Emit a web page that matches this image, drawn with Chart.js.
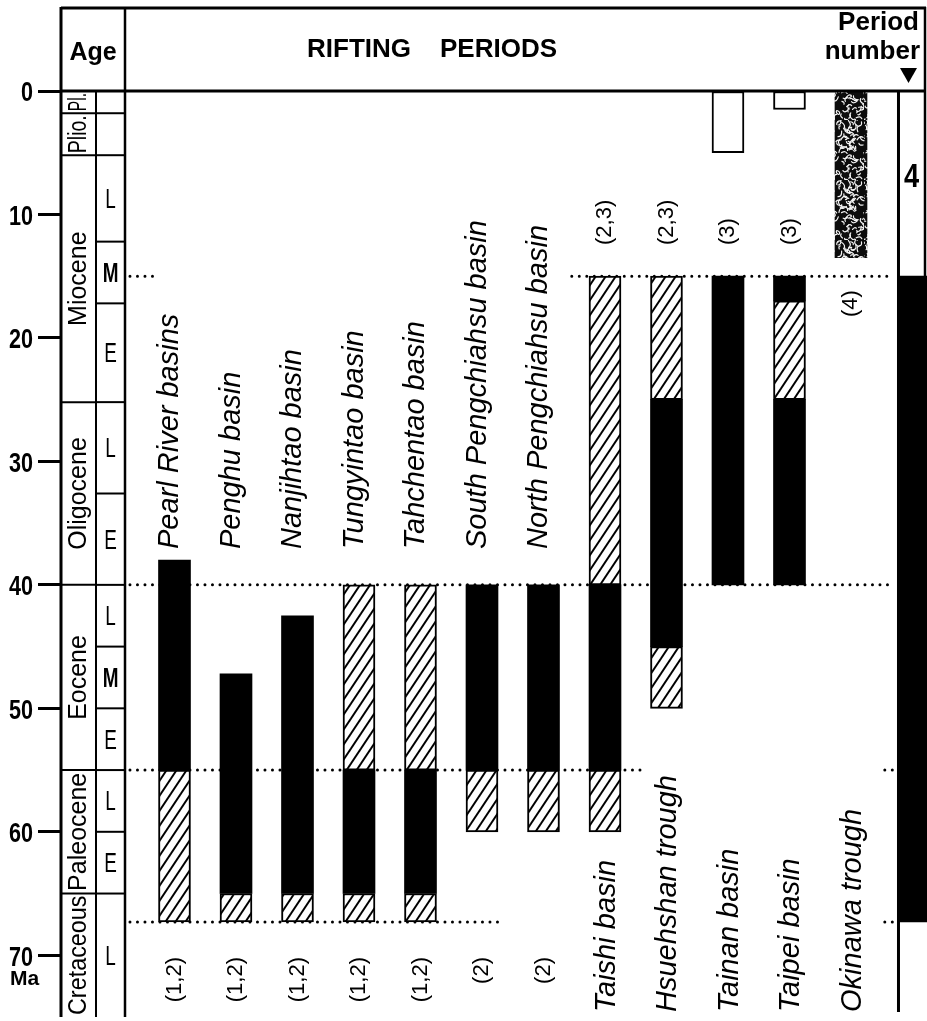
<!DOCTYPE html>
<html><head><meta charset="utf-8">
<script src="https://cdn.jsdelivr.net/npm/chart.js@4.4.1/dist/chart.umd.min.js"></script>
<style>html,body{margin:0;padding:0;background:#fff}canvas{display:block}</style>
</head><body>
<canvas id="c" width="927" height="1021"></canvas>
<script>
// ---------------- DATA ----------------
const basins = ['Pearl River basins','Penghu basin','Nanjihtao basin','Tungyintao basin','Tahchentao basin',
  'South Pengchiahsu basin','North Pengchiahsu basin','Taishi basin','Hsuehshan trough','Tainan basin',
  'Taipei basin','Okinawa trough'];
const periodNumbers = ['(1,2)','(1,2)','(1,2)','(1,2)','(1,2)','(2)','(2)','(2,3)','(2,3)','(3)','(3)','(4)'];
// [basin index, from Ma, to Ma]
const solidRifting = [[0,38,55],[1,47.2,65],[2,42.5,65],[3,55,65],[4,55,65],[5,40,55],[6,40,55],
  [7,40,55],[8,25,45],[9,15,40],[10,15,17],[10,25,40]];
const hatchedRifting = [[0,55,67.3],[1,65,67.3],[2,65,67.3],[3,40,55],[3,65,67.3],[4,40,55],[4,65,67.3],
  [5,55,60],[6,55,60],[7,15,40],[7,55,60],[8,15,25],[8,45,50],[10,17,25]];
const openRifting = [[9,0,5],[10,0,1.5]];
const stippledRifting = [[11,0,13.5]];
const periodColumn = [[12,15,67.3]];
const periodColumnLabel = '4';
const guideAges = [15,40,55,67.3];
const ageTicks = [0,10,20,30,40,50,60,70];
const epochNames = ['Pl.','Plio.','Miocene','Oligocene','Eocene','Paleocene','Cretaceous'];
const epochBounds = [0,1.8,5.2,25.2,40,55,65,75];
const subEpochNames = ['','','L','M','E','L','E','L','M','E','L','E','L'];
const subEpochBounds = [0,1.8,5.2,12.2,17.2,25.2,32.6,40,45,50,55,60,65,75];

// ---------------- LAYOUT (not data) ----------------
const guideSpans = {
  15: [[-0.724,-0.35],[6.46,11.7]],
  40: [[-0.724,11.7]],
  55: [[-0.724,7.65],[11.55,11.7]],
  67.3: [[-0.724,5.29],[11.55,11.7]]
};
const FONT = '"Liberation Sans", Arial, Helvetica, sans-serif';

function makeHatch(){
  const w=10,h=15,c=document.createElement('canvas');c.width=w;c.height=h;
  const g=c.getContext('2d');g.fillStyle='#fff';g.fillRect(0,0,w,h);
  g.strokeStyle='#000';g.lineWidth=2;
  for(const k of [-1,0,1]){g.beginPath();g.moveTo(w*(k-1),2*h);g.lineTo(w*(k+2),-h);g.stroke();}
  return g.createPattern(c,'repeat');
}
function makeStipple(){
  const w=36,h=60,c=document.createElement('canvas');c.width=w;c.height=h;
  const g=c.getContext('2d');g.fillStyle='#0c0c0c';g.fillRect(0,0,w,h);
  let s=4242;const rnd=()=>{s=(s*16807)%2147483647;return s/2147483647;};
  g.strokeStyle='#f4f4f4';g.lineWidth=1.2;g.lineCap='round';
  for(let k=0;k<105;k++){const x=rnd()*w,y=rnd()*h,a=rnd()*Math.PI*2,l=2+rnd()*5;
    g.beginPath();g.moveTo(x,y);g.quadraticCurveTo(x+Math.cos(a+1)*l*0.6,y+Math.sin(a+1)*l*0.6,x+Math.cos(a)*l,y+Math.sin(a)*l);g.stroke();}
  return g.createPattern(c,'repeat');
}
const toBars = arr => arr.map(([i,a,b]) => ({x:i, y:[a,b]}));

function txt(ctx,s,x,y,o){
  ctx.save();ctx.translate(x,y);if(o.rot)ctx.rotate(o.rot);ctx.scale(o.sx||1,1);
  ctx.font=o.font;ctx.textAlign=o.align||'left';ctx.textBaseline=o.baseline||'alphabetic';
  ctx.fillStyle='#000';ctx.fillText(s,0,0);ctx.restore();
}
function line(ctx,x1,y1,x2,y2,w){ctx.beginPath();ctx.lineWidth=w;ctx.strokeStyle='#000';ctx.moveTo(x1,y1);ctx.lineTo(x2,y2);ctx.stroke();}

const guideDatasets = guideAges.map(age => {
  const pts=[];
  guideSpans[age].forEach((sp,k)=>{ if(k>0) pts.push({x:sp[0]-0.01,y:null}); pts.push({x:sp[0],y:age},{x:sp[1],y:age}); });
  return {type:'line',data:pts,borderColor:'#000',borderWidth:3,borderDash:[0,7.5],borderCapStyle:'round',
    pointRadius:0,spanGaps:false,order:10,clip:false};
});

const framePlugin = {
  id:'frame',
  afterDraw(chart){
    const ctx=chart.ctx, y=chart.scales.y, x=chart.scales.x;
    const top=8, hb=y.getPixelForValue(0), bot=y.getPixelForValue(75);
    ctx.save();
    // header frame
    line(ctx,61,top,926,top,3);
    line(ctx,61,hb,925,hb,3);
    line(ctx,61,top-1,61,bot,3);
    line(ctx,125,top-1,125,bot,2.5);
    line(ctx,96,hb,96,bot,2);
    line(ctx,925,top-1,925,y.getPixelForValue(15),2.5);
    const pl = x.getPixelForValue(12)-15;
    line(ctx,pl+1,hb,pl+1,y.getPixelForValue(74.6),3);
    // age column boxes
    epochBounds.slice(1,-1).forEach(b=>line(ctx,61,y.getPixelForValue(b),96,y.getPixelForValue(b),2));
    subEpochBounds.slice(1,-1).forEach(b=>line(ctx,96,y.getPixelForValue(b),125,y.getPixelForValue(b),2));
    epochNames.forEach((n,i)=>{
      const yc=(y.getPixelForValue(epochBounds[i])+y.getPixelForValue(epochBounds[i+1]))/2;
      const len=y.getPixelForValue(epochBounds[i+1])-y.getPixelForValue(epochBounds[i]);
      ctx.save();ctx.font='25px '+FONT;const w=ctx.measureText(n).width;ctx.restore();
      const sx=Math.min(1,(len-4)/w);
      txt(ctx,n,86,yc,{font:'25px '+FONT,rot:-Math.PI/2,align:'center',sx});
    });
    subEpochNames.forEach((n,i)=>{
      if(!n)return;
      const yc=(y.getPixelForValue(subEpochBounds[i])+y.getPixelForValue(subEpochBounds[i+1]))/2;
      txt(ctx,n,110.5,yc+2,{font:(n==='M'?'bold ':'')+'27px '+FONT,align:'center',baseline:'middle',sx:0.7});
    });
    // y tick labels
    y.ticks.forEach(t=>{
      txt(ctx,String(t.value),33,y.getPixelForValue(t.value)+3,{font:'bold 27px '+FONT,align:'right',baseline:'middle',sx:0.8});
    });
    txt(ctx,'Ma',10,985,{font:'bold 21px '+FONT});
    // header titles
    txt(ctx,'Age',93,60,{font:'bold 25px '+FONT,align:'center'});
    txt(ctx,'RIFTING',307,57,{font:'bold 26px '+FONT});
    txt(ctx,'PERIODS',440,57,{font:'bold 26px '+FONT});
    txt(ctx,'Period',919,30,{font:'bold 26px '+FONT,align:'right'});
    txt(ctx,'number',920,59,{font:'bold 26px '+FONT,align:'right'});
    ctx.beginPath();ctx.fillStyle='#000';ctx.moveTo(900,68);ctx.lineTo(917,68);ctx.lineTo(908.5,83);ctx.closePath();ctx.fill();
    // period column label
    txt(ctx,periodColumnLabel,x.getPixelForValue(12)-1,y.getPixelForValue(7),{font:'bold 34px '+FONT,align:'center',baseline:'middle',sx:0.8});
    // basin names & period numbers
    basins.forEach((n,i)=>{
      const cx=x.getPixelForValue(i);
      if(i<7) txt(ctx,n,cx+4,549,{font:'italic 29px '+FONT,rot:-Math.PI/2});
      else txt(ctx,n,cx+10,1012,{font:'italic 29px '+FONT,rot:-Math.PI/2});
      const p=periodNumbers[i];
      if(i<7) txt(ctx,p,cx,957,{font:'22px '+FONT,rot:-Math.PI/2,align:'right',baseline:'middle'});
      else if(i<11) txt(ctx,p,cx,245,{font:'22px '+FONT,rot:-Math.PI/2,align:'left',baseline:'middle'});
      else txt(ctx,p,cx,317,{font:'22px '+FONT,rot:-Math.PI/2,align:'left',baseline:'middle'});
    });
    ctx.restore();
  }
};

const hatch = makeHatch(), stipple = makeStipple();
new Chart(document.getElementById('c'), {
  type:'bar',
  data:{datasets:[
    {data:toBars(solidRifting),backgroundColor:'#000',borderWidth:0,barThickness:32,grouped:false,order:1},
    {data:toBars(hatchedRifting),backgroundColor:hatch,borderColor:'#000',borderWidth:2,borderSkipped:false,barThickness:32,grouped:false,order:1},
    {data:toBars(openRifting),backgroundColor:'#fff',borderColor:'#000',borderWidth:2,borderSkipped:false,barThickness:32,grouped:false,order:1},
    {data:toBars(stippledRifting),backgroundColor:stipple,borderWidth:0,barThickness:32,grouped:false,order:1},
    {data:toBars(periodColumn),backgroundColor:'#000',borderWidth:0,barThickness:30,grouped:false,order:1,clip:false},
    ...guideDatasets
  ]},
  options:{
    responsive:false,animation:false,devicePixelRatio:1,
    layout:{padding:{left:0,right:0,top:91,bottom:4}},
    plugins:{legend:{display:false},tooltip:{enabled:false}},
    scales:{
      x:{type:'linear',display:false,min:-1.8455,max:12.236,offset:false},
      y:{type:'linear',reverse:true,min:0,max:75,
        afterBuildTicks:s=>{s.ticks=ageTicks.map(v=>({value:v}));},
        afterFit:s=>{s.width=61;},
        ticks:{display:false},
        border:{display:false},
        grid:{drawOnChartArea:false,drawTicks:true,tickLength:23,tickWidth:3,tickColor:'#000',color:'#000'}
      }
    }
  },
  plugins:[framePlugin]
});
</script>
</body></html>
